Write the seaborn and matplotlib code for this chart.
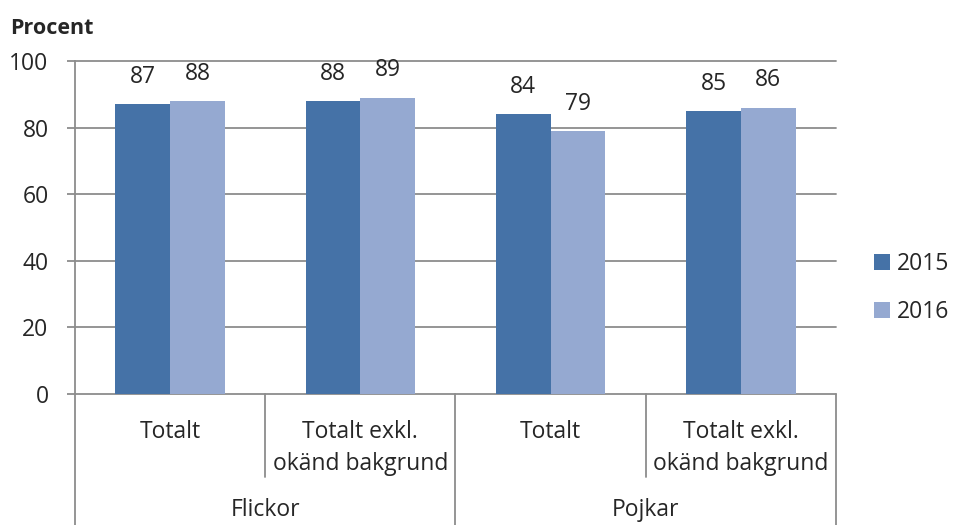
import numpy as np
import pandas as pd
import matplotlib
matplotlib.use("Agg")
import matplotlib.pyplot as plt
import seaborn as sns

# data
groups = ["Flickor", "Flickor", "Pojkar", "Pojkar"]
categories = ["Totalt", "Totalt exkl.\nokänd bakgrund", "Totalt", "Totalt exkl.\nokänd bakgrund"]
years = ["2015", "2016"]
values_2015 = [87, 88, 84, 85]
values_2016 = [88, 89, 79, 86]
yticks = [0, 20, 40, 60, 80, 100]

colors = {"2015": "#4572A7", "2016": "#95A9D1"}
grid_col = "#8C8C8C"
FS = 16.5

keys = [f"{g}|{i}" for i, g in enumerate(groups)]
df = pd.DataFrame({
    "key": keys * 2,
    "year": ["2015"] * 4 + ["2016"] * 4,
    "value": values_2015 + values_2016,
})

sns.set_theme(style="white")
plt.rcParams["font.family"] = ["Open Sans", "DejaVu Sans"]

W, H = 954, 525
fig = plt.figure(figsize=(W / 100, H / 100), dpi=100)
x0, x1, ytop, ybot = 75, 836, 61, 394
ax = fig.add_axes([x0 / W, 1 - ybot / H, (x1 - x0) / W, (ybot - ytop) / H])

sns.barplot(data=df, x="key", y="value", hue="year", order=keys, hue_order=years,
            palette=colors, width=0.575, linewidth=0, saturation=1, ax=ax)

ax.set_ylim(0, 100)
ax.set_xlim(-0.5, 3.5)
ax.set_yticks(yticks)
ax.set_yticklabels([str(v) for v in yticks], fontsize=FS)
ax.set_xticks(range(4))
ax.set_xticklabels(categories, fontsize=FS, linespacing=1.45)
ax.set_xlabel("")
ax.set_ylabel("")

for c in ax.containers:
    ax.bar_label(c, fontsize=FS, padding=11)

# axes style
for s in ["top", "right", "bottom"]:
    ax.spines[s].set_visible(False)
ax.spines["left"].set_color(grid_col)
ax.spines["left"].set_linewidth(1.3)
ax.yaxis.grid(True, color=grid_col, linewidth=1.3)
for ln in ax.get_ygridlines():
    ln.set_clip_on(False)
ax.set_axisbelow(True)
ax.tick_params(axis="y", left=True, length=6, width=1.3, color=grid_col, pad=13)
ax.tick_params(axis="x", bottom=False, length=0, pad=19)

# separators under the x axis
trans = ax.get_xaxis_transform()
full = (ybot - H) / (ybot - ytop)
short = (ybot - 477) / (ybot - ytop)
for xp in [-0.5, 1.5, 3.5]:
    ax.plot([xp, xp], [0, full], transform=trans, color=grid_col, lw=1.3, clip_on=False)
for xp in [0.5, 2.5]:
    ax.plot([xp, xp], [0, short], transform=trans, color=grid_col, lw=1.3, clip_on=False)

# group labels
glab = (ybot - 510) / (ybot - ytop)
ax.text(0.5, glab, "Flickor", transform=trans, ha="center", va="center", fontsize=FS)
ax.text(2.5, glab, "Pojkar", transform=trans, ha="center", va="center", fontsize=FS)

fig.text(10 / W, 1 - 28 / H, "Procent", fontsize=15.5, fontweight="bold", ha="left", va="center")

handles, labels = ax.get_legend_handles_labels()
ax.legend(handles, labels, loc="center left", bbox_to_anchor=(874 / W, 1 - 288 / H),
          bbox_transform=fig.transFigure, frameon=False, fontsize=FS,
          handlelength=0.68, handleheight=0.68, handletextpad=0.3,
          labelspacing=1.05, borderpad=0, borderaxespad=0)

fig.savefig("out.png", dpi=100)
